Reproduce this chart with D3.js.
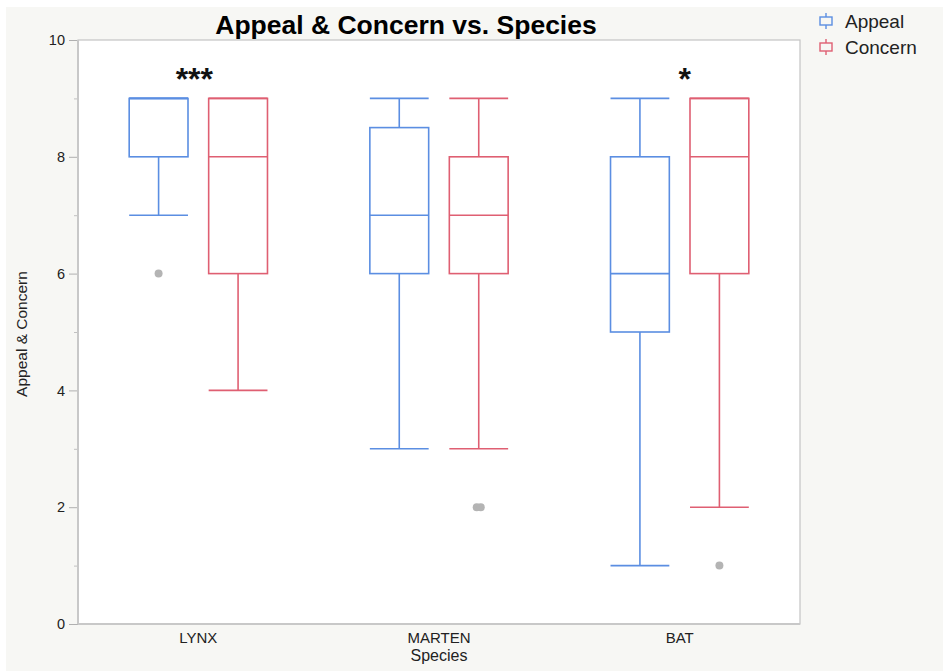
<!DOCTYPE html>
<html><head><meta charset="utf-8">
<script src="https://cdn.jsdelivr.net/npm/d3@7"></script>
<style>
body{margin:0;background:#fff;}
svg{display:block;font-family:"Liberation Sans",Arial,Helvetica,sans-serif;}
</style></head>
<body><svg id="c" width="943" height="671"></svg>
<script>
const species = ["LYNX","MARTEN","BAT"];
const seriesNames = ["Appeal","Concern"];
const seriesColors = ["#5b8ee2","#df5f72"];
// [min whisker, q1, median, q3, max whisker]
const appealStats = [[7,8,9,9,9],[3,6,7,8.5,9],[1,5,6,8,9]];
const concernStats = [[4,6,8,9,9],[3,6,7,8,9],[2,6,8,9,9]];
const outliers = [
  {species:"LYNX", series:"Appeal", value:6, n:1},
  {species:"MARTEN", series:"Concern", value:2, n:2},
  {species:"BAT", series:"Concern", value:1, n:1}
];
const annotations = [{species:"LYNX", text:"***"},{species:"BAT", text:"*"}];
const yTicks = [0,2,4,6,8,10];
const yMinor = [1,3,5,7,9];

const svg = d3.select("#c");
svg.append("rect").attr("x",6).attr("y",7).attr("width",937).attr("height",664).attr("fill","#f7f7f4");

const L=78,R=800,T=40,B=624;
svg.append("rect").attr("x",L).attr("y",T).attr("width",R-L).attr("height",B-T).attr("fill","#fff");

const x = d3.scaleBand().domain(species).range([L,R]);
const xs = d3.scaleBand().domain(seriesNames).range([0,x.bandwidth()]).paddingInner(0.26).paddingOuter(0.644);
const y = d3.scaleLinear().domain([0,10]).range([B,T]);

// axes
const yAx = svg.append("g").attr("transform",`translate(${L},0)`)
  .call(d3.axisLeft(y).tickValues(yTicks).tickSize(9).tickPadding(4));
yAx.select(".domain").remove();
yAx.selectAll("line").attr("stroke","#b0b0b0");
yAx.selectAll("text").attr("font-size",14.5).attr("fill","#222");
const yMin = svg.append("g").attr("transform",`translate(${L},0)`)
  .call(d3.axisLeft(y).tickValues(yMinor).tickSize(4).tickFormat(""));
yMin.select(".domain").remove();
yMin.selectAll("line").attr("stroke","#c0c0c0");

const xAx = svg.append("g").attr("transform",`translate(0,${B})`)
  .call(d3.axisBottom(x).tickSize(0).tickPadding(8));
xAx.select(".domain").remove();
xAx.selectAll("text").attr("font-size",15).attr("fill","#222");

svg.append("rect").attr("x",L).attr("y",T).attr("width",R-L).attr("height",B-T)
  .attr("fill","none").attr("stroke","#c4c4c4").attr("stroke-width",1.2);
svg.append("line").attr("x1",L).attr("x2",L).attr("y1",T).attr("y2",B).attr("stroke","#c8c8c8").attr("stroke-width",2);
svg.append("line").attr("x1",L).attr("x2",R).attr("y1",B).attr("y2",B).attr("stroke","#c8c8c8").attr("stroke-width",2);

// boxes
const allStats = [appealStats, concernStats];
seriesNames.forEach((s,si)=>{
  species.forEach((sp,i)=>{
    const st = allStats[si][i];
    const x0 = x(sp)+xs(s), w = xs.bandwidth(), cx = x0+w/2;
    const g = svg.append("g").attr("stroke",seriesColors[si]).attr("stroke-width",1.6).attr("fill","none");
    g.append("line").attr("x1",cx).attr("x2",cx).attr("y1",y(st[0])).attr("y2",y(st[1]));
    g.append("line").attr("x1",cx).attr("x2",cx).attr("y1",y(st[3])).attr("y2",y(st[4]));
    g.append("line").attr("x1",x0).attr("x2",x0+w).attr("y1",y(st[0])).attr("y2",y(st[0]));
    g.append("line").attr("x1",x0).attr("x2",x0+w).attr("y1",y(st[4])).attr("y2",y(st[4]));
    g.append("rect").attr("x",x0).attr("y",y(st[3])).attr("width",w).attr("height",y(st[1])-y(st[3]));
    g.append("line").attr("x1",x0).attr("x2",x0+w).attr("y1",y(st[2])).attr("y2",y(st[2]));
  });
});

outliers.forEach(o=>{
  const cx = x(o.species)+xs(o.series)+xs.bandwidth()/2;
  for(let k=0;k<o.n;k++){
    const off = o.n>1 ? (k-(o.n-1)/2)*4 : 0;
    svg.append("circle").attr("cx",cx+off).attr("cy",y(o.value)).attr("r",4).attr("fill","#b4b4b4");
  }
});

const annDx = [-4, 5];
annotations.forEach((a,i)=>{
  svg.append("text").attr("x",x(a.species)+x.bandwidth()/2+annDx[i]).attr("y",90)
    .attr("text-anchor","middle").attr("font-size",32).attr("font-weight","bold").attr("fill","#111").text(a.text);
});

svg.append("text").attr("x",406).attr("y",34).attr("text-anchor","middle")
  .attr("font-size",26.5).attr("font-weight","bold").attr("fill","#000").text("Appeal & Concern vs. Species");
svg.append("text").attr("transform",`translate(27,${(T+B)/2+2}) rotate(-90)`).attr("text-anchor","middle")
  .attr("font-size",15.5).attr("fill","#222").text("Appeal & Concern");
svg.append("text").attr("x",(L+R)/2).attr("y",661).attr("text-anchor","middle")
  .attr("font-size",16).attr("fill","#222").text("Species");

// legend
seriesNames.forEach((s,i)=>{
  const ly = 21+i*26;
  const g = svg.append("g").attr("stroke",seriesColors[i]).attr("stroke-width",1.4).attr("fill","none");
  g.append("line").attr("x1",826).attr("x2",826).attr("y1",ly-8).attr("y2",ly+8);
  g.append("rect").attr("x",820).attr("y",ly-4).attr("width",12).attr("height",8).attr("fill","#f7f7f4");
  svg.append("text").attr("x",845).attr("y",ly+7).attr("font-size",19).attr("fill","#222").text(s);
});
</script></body></html>
